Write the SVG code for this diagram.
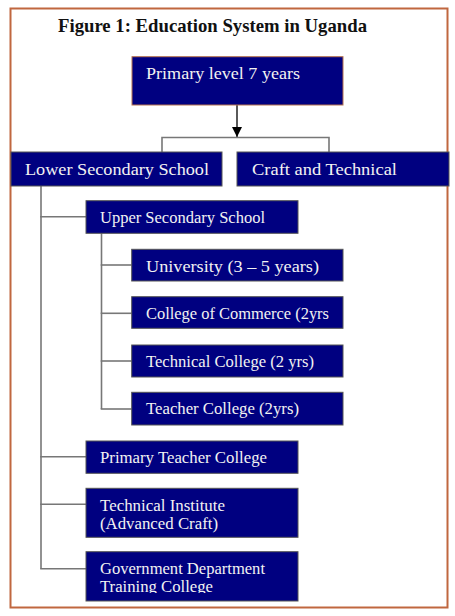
<svg xmlns="http://www.w3.org/2000/svg" width="455" height="616" viewBox="0 0 455 616">
<defs>
<style>
.box{fill:#000080;stroke:#555;stroke-width:1}
.boxp{fill:#000080;stroke:#b8734e;stroke-width:1}
.t{font-family:"Liberation Serif","Times New Roman",serif;font-size:17.3px;fill:#f2f2f2}
.c{fill:none;stroke:#777;stroke-width:1.6}
.title{font-family:"Liberation Serif","Times New Roman",serif;font-size:18.3px;font-weight:bold;fill:#111}
</style>
<marker id="arr" markerWidth="10" markerHeight="10" refX="10" refY="5" orient="auto" markerUnits="userSpaceOnUse" viewBox="0 0 10 10">
<path d="M0,0 L10,5 L0,10 Z" fill="#000"/>
</marker>
<clipPath id="clipGov"><rect x="86" y="552" width="212" height="41"/></clipPath>
</defs>
<rect x="0" y="0" width="455" height="616" fill="#fff"/>
<rect x="10.5" y="8.5" width="437" height="599" fill="none" stroke="#c0673f" stroke-width="2"/>
<text class="title" x="58" y="31.5" textLength="309" lengthAdjust="spacingAndGlyphs">Figure 1: Education System in Uganda</text>

<g id="connectors">
<line x1="237" y1="105" x2="237" y2="137" stroke="#000" stroke-width="1.3" marker-end="url(#arr)"/>
<polyline class="c" points="162,152 162,137.5 329,137.5 329,152"/>
<line class="c" x1="41" y1="186" x2="41" y2="568.7"/>
<line class="c" x1="40.2" y1="216.7" x2="86" y2="216.7"/>
<line class="c" x1="40.2" y1="456.7" x2="86" y2="456.7"/>
<line class="c" x1="40.2" y1="504.3" x2="86" y2="504.3"/>
<line class="c" x1="40.2" y1="568.7" x2="86" y2="568.7"/>
<line class="c" x1="101.5" y1="233.3" x2="101.5" y2="409"/>
<line class="c" x1="100.7" y1="265" x2="131.7" y2="265"/>
<line class="c" x1="100.7" y1="313.3" x2="131.7" y2="313.3"/>
<line class="c" x1="100.7" y1="361" x2="131.7" y2="361"/>
<line class="c" x1="100.7" y1="409" x2="131.7" y2="409"/>
</g>

<g id="primary">
<rect class="boxp" x="132" y="56.7" width="211" height="48.3"/>
<text class="t" x="146" y="79" textLength="154" lengthAdjust="spacingAndGlyphs">Primary level 7 years</text>
</g>
<g id="lower-secondary">
<rect class="box" x="11" y="152" width="211" height="34"/>
<text class="t" x="25" y="175" textLength="184" lengthAdjust="spacingAndGlyphs">Lower Secondary School</text>
</g>
<g id="craft-technical">
<rect class="box" x="237" y="152" width="212" height="34"/>
<text class="t" x="252" y="175" textLength="145" lengthAdjust="spacingAndGlyphs">Craft and Technical</text>
</g>
<g id="upper-secondary">
<rect class="box" x="86" y="200.7" width="212" height="32.6"/>
<text class="t" x="100" y="223" textLength="165" lengthAdjust="spacingAndGlyphs">Upper Secondary School</text>
</g>
<g id="university">
<rect class="box" x="131.7" y="249.3" width="211.3" height="31.7"/>
<text class="t" x="146" y="271.5" textLength="173" lengthAdjust="spacingAndGlyphs">University (3 – 5 years)</text>
</g>
<g id="commerce">
<rect class="box" x="131.7" y="296.7" width="211.3" height="31.6"/>
<text class="t" x="146" y="318.5" textLength="183" lengthAdjust="spacingAndGlyphs">College of Commerce (2yrs</text>
</g>
<g id="technical-college">
<rect class="box" x="131.7" y="345" width="211.3" height="32"/>
<text class="t" x="146" y="366.5" textLength="168" lengthAdjust="spacingAndGlyphs">Technical College (2 yrs)</text>
</g>
<g id="teacher-college">
<rect class="box" x="131.7" y="392.3" width="211.3" height="32.7"/>
<text class="t" x="146" y="414" textLength="153" lengthAdjust="spacingAndGlyphs">Teacher College (2yrs)</text>
</g>
<g id="primary-teacher">
<rect class="box" x="86" y="441" width="212" height="32.3"/>
<text class="t" x="100" y="462.5" textLength="167" lengthAdjust="spacingAndGlyphs">Primary Teacher College</text>
</g>
<g id="technical-institute">
<rect class="box" x="86" y="488.3" width="212" height="49"/>
<text class="t" x="100" y="511" textLength="125" lengthAdjust="spacingAndGlyphs">Technical Institute</text>
<text class="t" x="100" y="529" textLength="118" lengthAdjust="spacingAndGlyphs">(Advanced Craft)</text>
</g>
<g id="government">
<rect class="box" x="86" y="551.7" width="212" height="49.3"/>
<text class="t" x="100" y="574" textLength="165" lengthAdjust="spacingAndGlyphs">Government Department</text>
<text class="t" x="100" y="591.7" textLength="113" lengthAdjust="spacingAndGlyphs" clip-path="url(#clipGov)">Training College</text>
</g>
</svg>
